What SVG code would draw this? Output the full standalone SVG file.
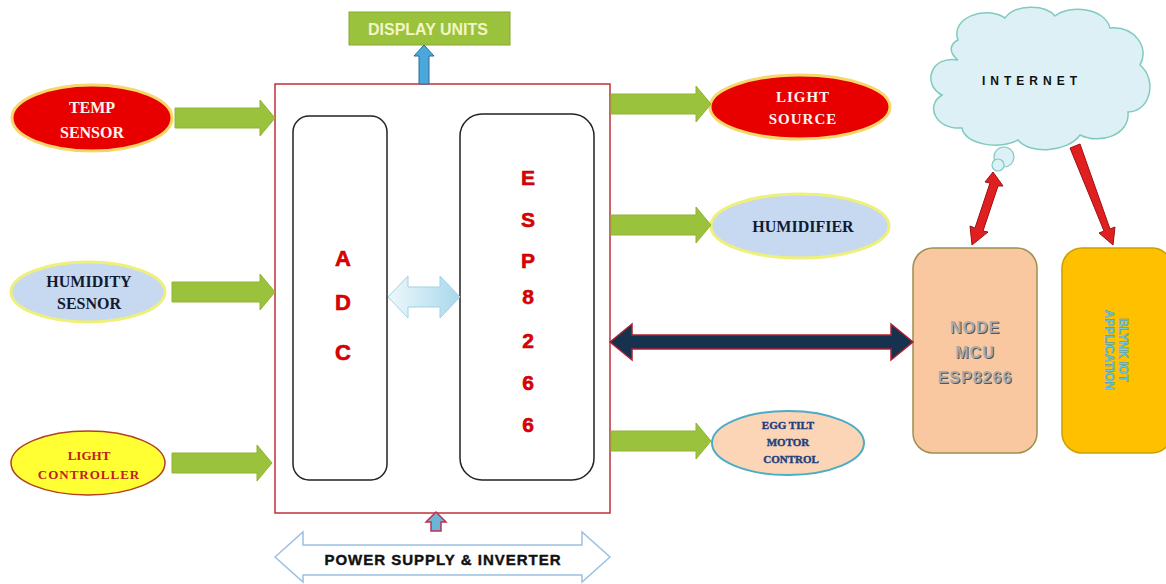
<svg xmlns="http://www.w3.org/2000/svg" width="1166" height="584" viewBox="0 0 1166 584">
<defs>
<linearGradient id="gArr" x1="0" y1="0" x2="1" y2="0">
<stop offset="0" stop-color="#eef8fc"/><stop offset="1" stop-color="#a9d8ec"/>
</linearGradient>
<style>
.garrow{fill:#9bc23c;stroke:#8fb531;stroke-width:1}
.lbl{font-family:"Liberation Serif",serif;font-weight:bold;text-anchor:middle}
.sans{font-family:"Liberation Sans",Arial,sans-serif;font-weight:bold;text-anchor:middle}
.red{fill:#e00000;stroke:#c00000;stroke-width:0.6}
.rarrow{fill:#e02020;stroke:#a01010;stroke-width:1}
</style>
</defs>
<rect width="1166" height="584" fill="#ffffff"/>

<g id="main-box">
<rect x="275" y="84" width="335" height="429" fill="#ffffff" stroke="#c0303a" stroke-width="1.5"/>
</g>
<g id="adc">
<rect x="293" y="116" width="94" height="364" rx="16" fill="#ffffff" stroke="#222" stroke-width="1.5"/>
<text class="sans red" x="343" y="266" font-size="22">A</text>
<text class="sans red" x="343" y="310" font-size="22">D</text>
<text class="sans red" x="343" y="360" font-size="22">C</text>
</g>
<g id="esp8266">
<rect x="460" y="114" width="134" height="366" rx="22" fill="#ffffff" stroke="#222" stroke-width="1.5"/>
<text class="sans red" x="528" y="185" font-size="21">E</text>
<text class="sans red" x="528" y="227" font-size="21">S</text>
<text class="sans red" x="528" y="268" font-size="21">P</text>
<text class="sans red" x="528" y="304" font-size="21">8</text>
<text class="sans red" x="528" y="348" font-size="21">2</text>
<text class="sans red" x="528" y="390" font-size="21">6</text>
<text class="sans red" x="528" y="432" font-size="21">6</text>
</g>

<g id="display-units">
<rect x="349" y="12" width="161" height="33" fill="#9bc23c" stroke="#86a932" stroke-width="1"/>
<text class="sans" x="428" y="35" font-size="17" fill="#f2f5c8" textLength="120" lengthAdjust="spacingAndGlyphs">DISPLAY UNITS</text>
</g>

<g id="temp-sensor">
<ellipse cx="92" cy="118" rx="80" ry="33" fill="#e80000" stroke="#f7d66a" stroke-width="3"/>
<text class="lbl" x="92" y="113" font-size="16" fill="#fff4f0">TEMP</text>
<text class="lbl" x="92" y="138" font-size="16" fill="#fff4f0">SENSOR</text>
</g>
<g id="humidity-sensor">
<ellipse cx="88" cy="292" rx="77" ry="30" fill="#c6d9f1" stroke="#eef07a" stroke-width="3"/>
<text class="lbl" x="89" y="287" font-size="16" fill="#111a30">HUMIDITY</text>
<text class="lbl" x="89" y="309" font-size="16" fill="#111a30">SESNOR</text>
</g>
<g id="light-controller">
<ellipse cx="88" cy="463" rx="77" ry="32" fill="#ffff33" stroke="#b04020" stroke-width="1.5"/>
<text class="lbl" x="89" y="460" font-size="13" fill="#c02020" font-weight="normal">LIGHT</text>
<text class="lbl" x="89" y="479" font-size="13" fill="#c02020" font-weight="normal" letter-spacing="1">CONTROLLER</text>
</g>

<g id="light-source">
<ellipse cx="800" cy="107" rx="90" ry="32" fill="#e80000" stroke="#f7d66a" stroke-width="3"/>
<text class="lbl" x="803" y="102" font-size="15" fill="#fff4f0" letter-spacing="1">LIGHT</text>
<text class="lbl" x="803" y="124" font-size="15" fill="#fff4f0" letter-spacing="1">SOURCE</text>
</g>
<g id="humidifier">
<ellipse cx="800" cy="226" rx="89" ry="32" fill="#c6d9f1" stroke="#eef07a" stroke-width="3"/>
<text class="lbl" x="803" y="232" font-size="16" fill="#111a30">HUMIDIFIER</text>
</g>
<g id="egg-tilt">
<ellipse cx="788" cy="443" rx="76" ry="32" fill="#fbd5b5" stroke="#4bacc6" stroke-width="2"/>
<text class="lbl" x="788" y="429" font-size="11" fill="#1f3f80" stroke="#1f3f80" stroke-width="0.4">EGG TILT</text>
<text class="lbl" x="788" y="446" font-size="11" fill="#1f3f80" stroke="#1f3f80" stroke-width="0.4">MOTOR</text>
<text class="lbl" x="791" y="463" font-size="11" fill="#1f3f80" stroke="#1f3f80" stroke-width="0.4">CONTROL</text>
</g>

<g id="nodemcu">
<rect x="913" y="248" width="124" height="205" rx="20" fill="#f9c7a0" stroke="#9b9050" stroke-width="1.5"/>
<g class="sans" font-size="16" font-weight="normal" letter-spacing="1">
<text x="976" y="334" fill="#555">NODE</text>
<text x="976" y="359" fill="#555">MCU</text>
<text x="976" y="384" fill="#555">ESP8266</text>
<text x="975" y="333" fill="#aaa">NODE</text>
<text x="975" y="358" fill="#aaa">MCU</text>
<text x="975" y="383" fill="#aaa">ESP8266</text>
</g>
</g>
<g id="blynk">
<rect x="1062" y="248" width="110" height="205" rx="20" fill="#ffc000" stroke="#c9a000" stroke-width="1.5"/>
<g transform="translate(1115,350) rotate(90)">
<text class="sans" x="0" y="-4" font-size="12" fill="#6fcde6" stroke="#3a8fb0" stroke-width="0.4">BLYNK IOT</text>
<text class="sans" x="0" y="10" font-size="12" fill="#6fcde6" stroke="#3a8fb0" stroke-width="0.4">APPLICATION</text>
</g>
</g>

<g id="internet">
<path d="M958,40 C950,18 985,5 1005,18 C1015,4 1045,4 1055,16 C1070,4 1105,8 1110,28 C1135,26 1150,48 1140,65 C1158,80 1150,112 1128,112 C1130,135 1100,145 1080,135 C1068,152 1030,155 1018,140 C1000,150 965,145 962,128 C935,130 925,105 942,95 C922,85 930,55 958,60 C948,52 950,44 958,40 Z" fill="#dcf0f5" stroke="#7fcbbf" stroke-width="1.5"/>
<circle cx="1004" cy="157" r="10" fill="#dcf0f5" stroke="#7fcbbf" stroke-width="1.2"/>
<circle cx="998" cy="165" r="6" fill="#dcf0f5" stroke="#7fcbbf" stroke-width="1.2"/>
<text class="sans" x="1032" y="85" font-size="12" fill="#111" letter-spacing="5">INTERNET</text>
</g>

<g id="connectors">
<path class="garrow" d="M175,108 H260 V100 L275,118 L260,136 V128 H175 Z"/>
<path class="garrow" d="M172,282 H260 V274 L275,292 L260,310 V302 H172 Z"/>
<path class="garrow" d="M172,453 H257 V445 L272,463 L257,481 V473 H172 Z"/>
<path class="garrow" d="M611,94 H696 V86 L711,104 L696,122 V114 H611 Z"/>
<path class="garrow" d="M611,215 H696 V207 L711,225 L696,243 V235 H611 Z"/>
<path class="garrow" d="M611,431 H696 V423 L711,441 L696,459 V451 H611 Z"/>
<path d="M419,84 V56 H414 L424,45 L434,56 H429 V84 Z" fill="#4aa8dc" stroke="#2a6a99" stroke-width="1"/>
<path d="M431,531 V522 H426 L436,512 L446,522 H441 V531 Z" fill="#6bb5d9" stroke="#c03050" stroke-width="1.5"/>
<path d="M388,297 L408,276 V287 H440 V276 L460,297 L440,318 V307 H408 V318 Z" fill="url(#gArr)" stroke="#9fd3e3" stroke-width="1"/>
<path d="M610,342 L632,324 V335 H891 V324 L913,342 L891,360 V349 H632 V360 Z" fill="#17324f" stroke="#b02030" stroke-width="1.5"/>
<path d="M275,557 L303,532 V545 H582 V532 L610,557 L582,582 V575 H303 V582 Z" fill="#ffffff" stroke="#9cc0e2" stroke-width="1.5"/>
<text class="sans" x="443" y="565" font-size="15" fill="#111" stroke="#111" stroke-width="0.4" letter-spacing="1">POWER SUPPLY &amp; INVERTER</text>
<path class="rarrow" d="M993,172 L1003,186 L998,186 L983,231 L988,232 L972,245 L970,226 L975,228 L990,183 L985,182 Z"/>
<path class="rarrow" d="M1070,148 L1080,144 L1110,229 L1115,227 L1113,245 L1099,233 L1104,231 Z"/>
</g>
</svg>
